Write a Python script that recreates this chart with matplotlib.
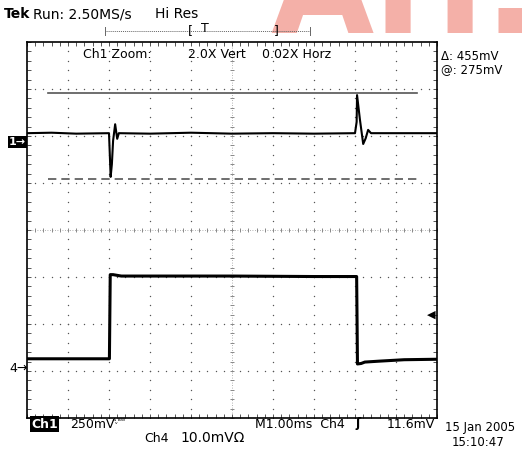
import numpy as np
import matplotlib
matplotlib.use("Agg")
import matplotlib.pyplot as plt

# Ch1 trace (divisions): baseline with two glitches
ch1_x = [0.0, 0.6, 1.2, 2.0, 2.02, 2.04, 2.07, 2.10, 2.15, 2.20, 2.24, 3.0, 4.0, 5.0, 6.0, 7.0, 8.0,
         8.04, 8.05, 8.12, 8.20, 8.26, 8.32, 8.39, 9.0, 10.0]
ch1_y = [2.06, 2.07, 2.05, 2.06, 1.60, 1.13, 1.40, 1.90, 2.25, 1.94, 2.06, 2.05, 2.07, 2.05, 2.06, 2.05, 2.06,
         2.30, 2.87, 2.35, 1.83, 1.95, 2.13, 2.06, 2.06, 2.06]

# Ch4 trace (divisions): square pulse
ch4_x = [0.0, 1.0, 2.01, 2.03, 2.10, 2.30, 3.0, 5.0, 7.0, 8.04, 8.06, 8.15, 8.24, 8.6, 9.2, 10.0]
ch4_y = [-2.74, -2.74, -2.74, -0.95, -0.95, -0.98, -0.98, -0.98, -0.99, -0.99, -2.85, -2.84, -2.81, -2.79, -2.76, -2.75]

# cursors
cursor_hi = 2.91
cursor_lo = 1.085
cursor_span = [0.5, 9.5]

W, H = 524, 449
fig = plt.figure(figsize=(W / 100, H / 100), dpi=100)
fig.patch.set_facecolor("white")

def px(x, y):
    return x / W, 1 - y / H

# watermark (drawn first, behind everything)
fig.text(*px(270, 33), "AH.", fontsize=96, fontweight="bold", color="#f4b0a8",
         ha="left", va="baseline", family="DejaVu Sans", zorder=0)

ax = fig.add_axes([27 / W, (H - 418) / H, 410 / W, 376 / H])
ax.set_xlim(0, 10)
ax.set_ylim(-4, 4)
for s in ax.spines.values():
    s.set_linewidth(1.2)
    s.set_color("black")

ax.set_xticks(np.arange(0, 10.01, 0.2))
ax.set_yticks(np.arange(-4, 4.01, 0.2))
ax.tick_params(direction="in", length=3, width=0.7, top=True, right=True,
               labelbottom=False, labelleft=False, color="#555555")

# graticule dots
for gx in range(1, 10):
    if gx == 5:
        continue
    yy = np.arange(-4, 4.01, 0.2)
    ax.scatter(np.full_like(yy, gx), yy, s=1.0, color="#555555", lw=0, zorder=1)
for gy in range(-3, 4):
    if gy == 0:
        continue
    xx = np.arange(0, 10.01, 0.2)
    ax.scatter(xx, np.full_like(xx, gy), s=1.0, color="#555555", lw=0, zorder=1)

# center cross
ax.axhline(0, color="#999999", lw=0.6, ls=(0, (1, 2)), zorder=1)
ax.axvline(5, color="#999999", lw=0.6, ls=(0, (1, 2)), zorder=1)
tx = np.arange(0, 10.01, 0.2)
ax.scatter(tx, np.zeros_like(tx), marker="|", s=10, color="#888888", lw=0.7, zorder=1)
ty = np.arange(-4, 4.01, 0.2)
ax.scatter(np.full_like(ty, 5), ty, marker="_", s=10, color="#888888", lw=0.7, zorder=1)

# cursors
ax.plot(cursor_span, [cursor_hi, cursor_hi], color="#555555", lw=1.2, zorder=2)
ax.plot(cursor_span, [cursor_lo, cursor_lo], color="#555555", lw=1.2, ls=(0, (5, 3)), zorder=2)

# traces
ax.plot(ch1_x, ch1_y, color="black", lw=1.5, zorder=3)
ax.plot(ch4_x, ch4_y, color="black", lw=2.2, zorder=3)

font = "DejaVu Sans"
fs = 9

# header
fig.text(*px(4, 14), "Tek", fontsize=10, fontweight="bold", family=font, va="center")
fig.text(*px(33, 14), "Run: 2.50MS/s", fontsize=10, family=font, va="center")
fig.text(*px(155, 14), "Hi Res", fontsize=10, family=font, va="center")
fig.lines.append(plt.Line2D([105 / W, 310 / W], [1 - 31 / H, 1 - 31 / H], transform=fig.transFigure,
                            color="#666666", lw=0.7, ls=(0, (1, 1))))
fig.lines.append(plt.Line2D([105 / W, 105 / W], [1 - 27 / H, 1 - 35 / H], transform=fig.transFigure,
                            color="#666666", lw=0.7))
fig.lines.append(plt.Line2D([310 / W, 310 / W], [1 - 27 / H, 1 - 35 / H], transform=fig.transFigure,
                            color="#666666", lw=0.7))
fig.text(*px(188, 31), "[", fontsize=fs, family=font, va="center")
fig.text(*px(201, 28), "T", fontsize=fs, family=font, va="center")
fig.text(*px(274, 31), "]", fontsize=fs, family=font, va="center")

fig.text(*px(83, 54), "Ch1 Zoom:", fontsize=fs, family=font, va="center")
fig.text(*px(188, 54), "2.0X Vert", fontsize=fs, family=font, va="center")
fig.text(*px(262, 54), "0.02X Horz", fontsize=fs, family=font, va="center")

fig.text(*px(441, 57), "Δ: 455mV", fontsize=8.5, family=font, va="center")
fig.text(*px(441, 70), "@: 275mV", fontsize=8.5, family=font, va="center")

# channel markers
fig.text(*px(9, 142), "1→", fontsize=8, fontweight="bold", color="white", family=font, va="center",
         bbox=dict(boxstyle="square,pad=0.1", fc="black", ec="none"))
fig.text(*px(9, 369), "4→", fontsize=fs, family=font, va="center")
fig.text(*px(427, 315), "◀", fontsize=8, family=font, va="center")

# footer
fig.text(*px(31, 424), "Ch1", fontsize=fs, fontweight="bold", color="white", family=font, va="center",
         bbox=dict(boxstyle="square,pad=0.1", fc="black", ec="none"))
fig.text(*px(70, 424), "250mV", fontsize=fs, family=font, va="center")
fig.text(*px(113, 422), "ᴬᵥᴮᵂ", fontsize=5, family=font, va="center")
fig.text(*px(144, 438), "Ch4", fontsize=fs, family=font, va="center")
fig.text(*px(180, 438), "10.0mVΩ", fontsize=10, family=font, va="center")
fig.text(*px(255, 424), "M1.00ms  Ch4", fontsize=fs, family=font, va="center")
fig.text(*px(355, 424), "ʃ", fontsize=fs, fontweight="bold", family=font, va="center")
fig.text(*px(387, 424), "11.6mV", fontsize=fs, family=font, va="center")
fig.text(*px(445, 428), "15 Jan 2005", fontsize=8.5, family=font, va="center")
fig.text(*px(452, 443), "15:10:47", fontsize=8.5, family=font, va="center")

fig.savefig("out.png", dpi=100, facecolor="white")
